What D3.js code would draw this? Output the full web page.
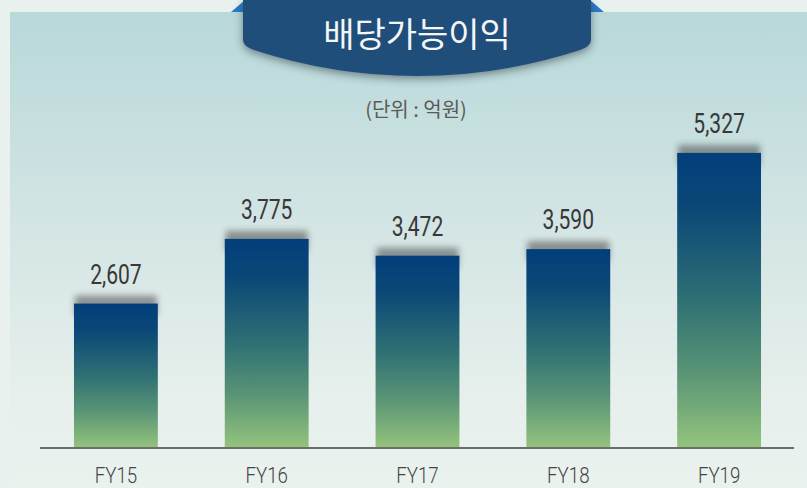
<!DOCTYPE html>
<html><head><meta charset="utf-8">
<script src="https://cdn.jsdelivr.net/npm/d3@7"></script>
<style>html,body{margin:0;padding:0;background:#e9f1ef;}svg{display:block;}</style>
</head><body>
<script>
const categories = ["FY15","FY16","FY17","FY18","FY19"];
const values = [2607, 3775, 3472, 3590, 5327];
const valueLabels = ["2,607","3,775","3,472","3,590","5,327"];
const title = "배당가능이익";
const unitLabel = "(단위 : 억원)";

const W = 807, H = 488;
const svg = d3.select("body").append("svg").attr("width", W).attr("height", H);
const defs = svg.append("defs");

const bg = defs.append("linearGradient").attr("id","panel").attr("x1",0).attr("y1",0).attr("x2",0).attr("y2",1);
bg.append("stop").attr("offset","0%").attr("stop-color","#b8d8d9");
bg.append("stop").attr("offset","45%").attr("stop-color","#d3e5e4");
bg.append("stop").attr("offset","80%").attr("stop-color","#e6efec");
bg.append("stop").attr("offset","100%").attr("stop-color","#eaf2ee");

const bar = defs.append("linearGradient").attr("id","bar").attr("x1",0).attr("y1",0).attr("x2",0).attr("y2",1);
bar.append("stop").attr("offset","0%").attr("stop-color","#023f7b");
bar.append("stop").attr("offset","18%").attr("stop-color","#0a4777");
bar.append("stop").attr("offset","50%").attr("stop-color","#2f7074");
bar.append("stop").attr("offset","75%").attr("stop-color","#5a9576");
bar.append("stop").attr("offset","100%").attr("stop-color","#94c47c");

const blur = defs.append("filter").attr("id","sh").attr("x","-20%").attr("y","-50%").attr("width","140%").attr("height","200%");
blur.append("feGaussianBlur").attr("stdDeviation",3);
const blur2 = defs.append("filter").attr("id","sh2").attr("x","-20%").attr("y","-50%").attr("width","140%").attr("height","200%");
blur2.append("feGaussianBlur").attr("stdDeviation",4);

// background panel
svg.append("rect").attr("x",0).attr("y",0).attr("width",W).attr("height",H).attr("fill","#e9f1ef");
svg.append("rect").attr("x",10).attr("y",12).attr("width",W-10).attr("height",H-12).attr("fill","url(#panel)");

// scales
const x = d3.scaleBand().domain(categories).range([40.5, 794.5]).paddingInner(0.444).paddingOuter(0.222);
const y = d3.scaleLinear().domain([0, 6000]).range([448, 115.6]);

// bar shadows
svg.append("g").selectAll("rect").data(values).join("rect")
  .attr("x",(d,i)=>x(categories[i])+1)
  .attr("y",d=>y(d)-8)
  .attr("width",x.bandwidth()-2)
  .attr("height",d=>Math.min(20, 448-y(d)))
  .attr("fill","#3a3a3a").attr("opacity",0.5).attr("filter","url(#sh)");

// bars
svg.append("g").selectAll("rect").data(values).join("rect")
  .attr("x",(d,i)=>x(categories[i]))
  .attr("y",d=>y(d))
  .attr("width",x.bandwidth())
  .attr("height",d=>448-y(d))
  .attr("fill","url(#bar)");

// value labels
svg.append("g").selectAll("text").data(values).join("text")
  .attr("transform",(d,i)=>`translate(${x(categories[i])+x.bandwidth()/2},${y(d)-20}) scale(0.78,1)`)
  .attr("text-anchor","middle")
  .attr("font-family","Roboto, 'Noto Sans', sans-serif")
  .attr("font-weight",400)
  .attr("font-size",27)
  .attr("fill","#383838")
  .text((d,i)=>valueLabels[i]);

// axis
const axis = svg.append("g").attr("transform","translate(0,448)").call(d3.axisBottom(x).tickSize(0).tickPadding(0));
axis.select(".domain").attr("stroke","#6d6d6d").attr("stroke-width",2).attr("d","M40,0H794");
axis.selectAll(".tick text")
  .attr("font-family","Roboto, 'Noto Sans', sans-serif")
  .attr("font-weight",300)
  .attr("font-size",22)
  .attr("fill","#444")
  .attr("dy",0)
  .attr("y",35)
  .attr("x",0)
  .attr("transform","scale(0.85,1)");

// title banner
const cx = 417;
const ears = svg.append("g");
ears.append("path").attr("d","M231,12 L245,0 L245,12 Z").attr("fill","#2e79c6");
ears.append("path").attr("d","M604,12 L590,0 L590,12 Z").attr("fill","#2e79c6");
const bannerPath = "M243,0 L591,0 L591,40 Q591,46 580,50 Q500,76 417,76 Q334,76 254,50 Q243,46 243,40 Z";
svg.append("path").attr("d",bannerPath).attr("fill","#1a2a35").attr("opacity",0.5)
  .attr("transform","translate(0,3)").attr("filter","url(#sh2)");
svg.append("path").attr("d",bannerPath).attr("fill","#1f4e7a");
svg.append("text").attr("x",cx).attr("y",47).attr("text-anchor","middle")
  .attr("font-family","'Noto Sans CJK KR', sans-serif").attr("font-weight",400)
  .attr("font-size",34).attr("fill","#f4f6f8").text(title);

svg.append("text").attr("x",416).attr("y",117).attr("text-anchor","middle")
  .attr("font-family","'Noto Sans CJK KR', sans-serif")
  .attr("font-size",20).attr("fill","#5a5a5a").text(unitLabel);
</script>
</body></html>
